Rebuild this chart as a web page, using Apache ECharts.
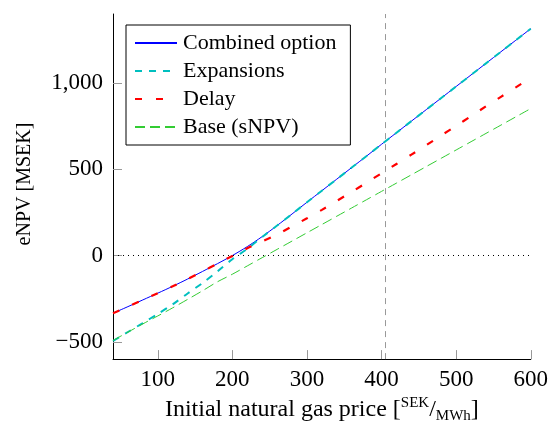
<!DOCTYPE html>
<html>
<head>
<meta charset="utf-8">
<title>eNPV vs initial natural gas price</title>
<script src="https://cdn.jsdelivr.net/npm/echarts@6/dist/echarts.min.js"></script>
<style>
  html, body { margin: 0; padding: 0; background: #fff; }
  #chart { width: 551px; height: 429px; }
</style>
</head>
<body>
<div id="chart"></div>
<script>
// Initial natural gas price [SEK/MWh]
const gasPrice = [40, 60, 80, 100, 120, 140, 160, 180, 200, 220, 240, 260, 280, 300,
  320, 340, 360, 380, 400, 420, 440, 460, 480, 500, 520, 540, 560, 580, 600];

// eNPV [MSEK] per valuation
const combinedOption = [-334, -296, -257, -218, -178, -136, -92, -47, 0, 52, 110, 174, 241, 309,
  376, 443, 510, 577, 645, 712, 779, 846, 913, 980, 1047, 1114, 1181, 1248, 1315];
const expansions = [-495, -443, -391, -338, -283, -220, -159, -92, -21, 39, 108, 174, 241, 309,
  376, 443, 510, 577, 645, 712, 779, 846, 913, 980, 1047, 1114, 1181, 1248, 1315];
const delay = [-334, -296, -257, -218, -178, -136, -92, -47, -2, 42, 82, 122, 169, 216,
  265, 317, 369, 423, 477, 531, 585, 640, 696, 752, 808, 865, 920, 975, 1030];
const baseSNPV = [-492, -444, -396, -350, -303, -254, -204, -152, -108, -60, -12, 36, 84, 132,
  180, 228, 276, 324, 372, 420, 468, 516, 564, 612, 660, 708, 756, 804, 852];

// Reference price marker and tick labels
const referencePrice = 405;
const xTicks = [100, 200, 300, 400, 500, 600];
const yTicks = [-500, 0, 500, 1000];

const FONT = '"Liberation Serif", "DejaVu Serif", serif';

function pairs(ys) {
  return gasPrice.map((x, i) => [x, ys[i]]);
}

function fmtY(v) {
  const s = Math.abs(v).toLocaleString('en-US');
  return v < 0 ? '\u2212' + s : s;
}

const chart = echarts.init(document.getElementById('chart'), null, { renderer: 'canvas' });

chart.setOption({
  animation: false,
  backgroundColor: '#fff',
  textStyle: { fontFamily: FONT, color: '#000' },
  grid: { left: 113, right: 19, top: 14, bottom: 65, containLabel: false },
  legend: {
    orient: 'vertical',
    left: 126,
    top: 25,
    padding: [7, 14, 7, 8],
    itemWidth: 42,
    itemHeight: 14,
    itemGap: 6,
    backgroundColor: '#fff',
    borderColor: '#000',
    borderWidth: 1,
    itemStyle: { opacity: 0 },
    textStyle: { fontFamily: FONT, fontSize: 22, color: '#000', padding: [0, 0, 0, 1] },
    data: ['Combined option', 'Expansions', 'Delay', 'Base (sNPV)']
  },
  xAxis: {
    type: 'value',
    min: 40,
    max: 600,
    name: 'Initial natural gas price [{sup|SEK}{sl|/}{sub|MWh}]',
    nameLocation: 'middle',
    nameGap: 35,
    nameTextStyle: {
      fontFamily: FONT, fontSize: 24, color: '#000', lineHeight: 28,
      rich: {
        sup: { fontFamily: FONT, fontSize: 15, verticalAlign: 'top', lineHeight: 28, padding: [0, 0, 6, 0] },
        sl: { fontFamily: FONT, fontSize: 24, lineHeight: 28 },
        sub: { fontFamily: FONT, fontSize: 15, verticalAlign: 'bottom', lineHeight: 28, padding: [4, 0, 0, 0] }
      }
    },
    axisLine: { show: true, onZero: false, lineStyle: { color: '#000', width: 1 } },
    axisTick: { show: true, inside: true, length: 9, customValues: xTicks, lineStyle: { color: '#999', width: 1 } },
    axisLabel: { customValues: xTicks, fontFamily: FONT, fontSize: 23, color: '#000', margin: 9 },
    splitLine: { show: false }
  },
  yAxis: {
    type: 'value',
    min: -600,
    max: 1400,
    axisLine: { show: true, onZero: false, lineStyle: { color: '#000', width: 1 } },
    axisTick: { show: true, inside: true, length: 9, customValues: yTicks, lineStyle: { color: '#999', width: 1 } },
    axisLabel: { customValues: yTicks, fontFamily: FONT, fontSize: 23, color: '#000', margin: 10, formatter: fmtY },
    splitLine: { show: false }
  },
  graphic: [{
    type: 'text',
    x: 25,
    y: 184,
    rotation: Math.PI / 2,
    style: {
      text: 'eNPV [MSEK]',
      fontFamily: FONT,
      fontSize: 20,
      fill: '#000',
      align: 'center',
      verticalAlign: 'middle'
    }
  }],
  series: [
    {
      name: 'Combined option',
      type: 'line',
      data: pairs(combinedOption),
      symbol: 'none',
      smooth: 0.3,
      lineStyle: { color: '#0000ff', width: 1 },
      itemStyle: { color: '#0000ff' },
      z: 3,
      markLine: {
        silent: true,
        symbol: 'none',
        label: { show: false },
        data: [
          { xAxis: referencePrice, lineStyle: { color: '#999', width: 1, type: [6, 5] } },
          { yAxis: 0, lineStyle: { color: '#000', width: 1, type: [1, 4] } }
        ]
      }
    },
    {
      name: 'Expansions',
      type: 'line',
      data: pairs(expansions),
      symbol: 'none',
      smooth: 0.3,
      lineStyle: { color: '#00bfbf', width: 2, type: [7, 7] },
      itemStyle: { color: '#00bfbf' },
      z: 4
    },
    {
      name: 'Delay',
      type: 'line',
      data: pairs(delay),
      symbol: 'none',
      smooth: 0.3,
      lineStyle: { color: '#ff0000', width: 2.2, type: [7, 14] },
      itemStyle: { color: '#ff0000' },
      z: 5
    },
    {
      name: 'Base (sNPV)',
      type: 'line',
      data: pairs(baseSNPV),
      symbol: 'none',
      smooth: 0.3,
      lineStyle: { color: '#33cc33', width: 1, type: [10, 5] },
      itemStyle: { color: '#33cc33' },
      z: 6
    }
  ]
});
</script>
</body>
</html>
